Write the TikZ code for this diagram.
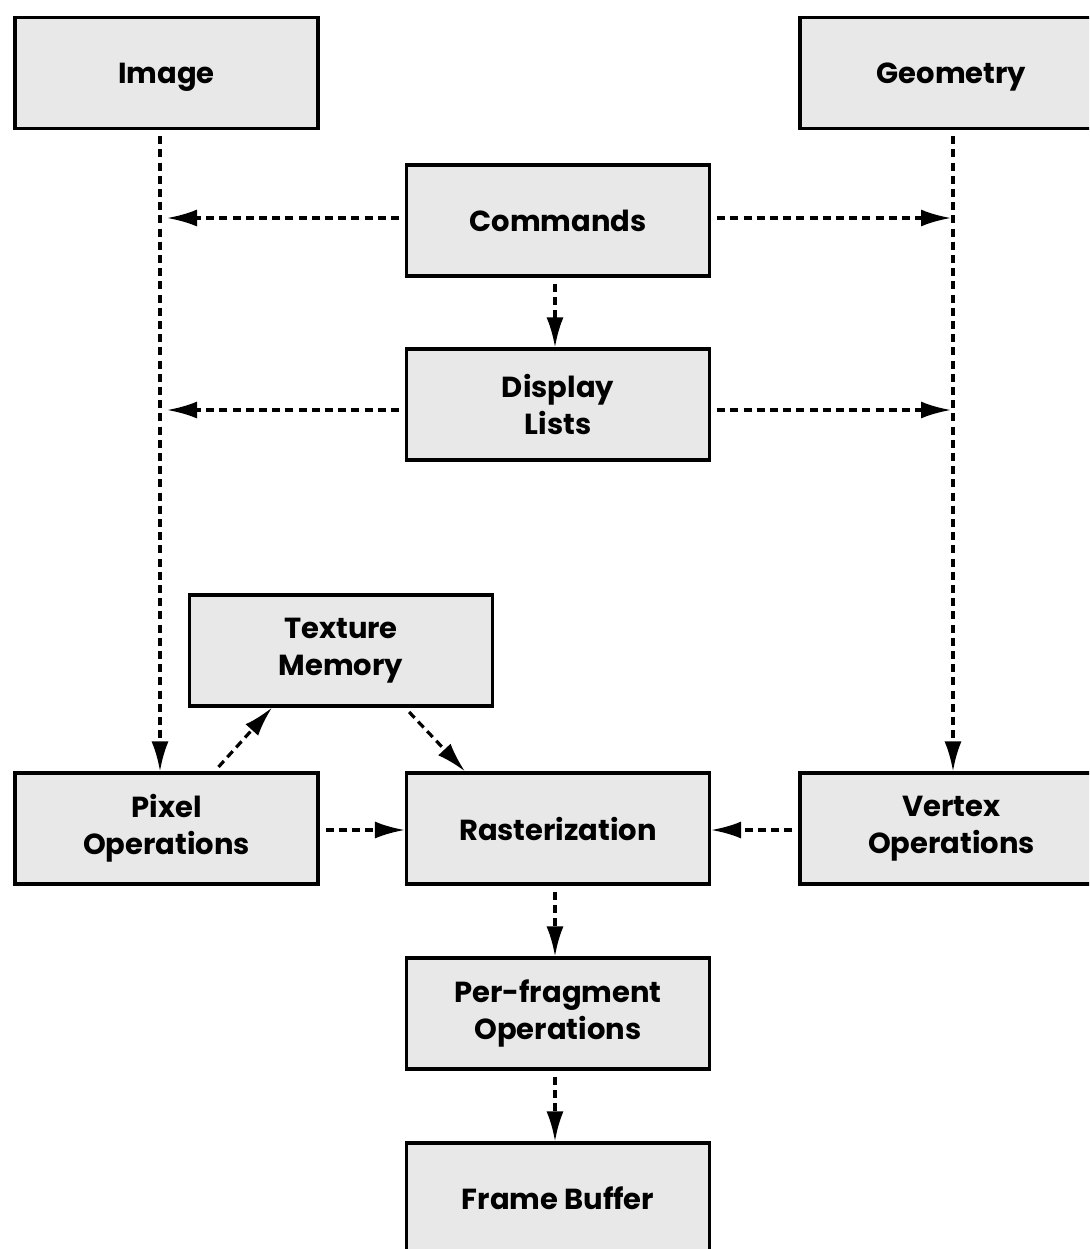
\documentclass[tikz,border=0pt]{standalone}
\usepackage{fontspec}
\setmainfont{Poppins}[BoldFont={Poppins Bold}]
\usetikzlibrary{arrows.meta,calc}
\definecolor{boxfill}{HTML}{E8E8E8}
\tikzset{
  blk/.style={draw=black, line width=1.6pt, fill=boxfill, minimum width=151.5pt, minimum height=55.5pt,
    inner sep=0pt, align=center, font=\fontsize{14.5}{18.5}\selectfont\bfseries},
  flow/.style={line width=1.6pt, dash pattern=on 4pt off 2.6pt, -{Latex[length=15pt,width=8.5pt]}, shorten <=3pt}
}
\begin{document}
\begin{tikzpicture}[x=0.5pt,y=-0.5pt]
\useasboundingbox (0,0) rectangle (1089,1249);
\clip (0,0) rectangle (1089,1249);
\node[blk, text depth=0pt] (img) at (166.5,73) {Image};
\node[blk, text depth=0pt] (geo) at (951.5,73) {Geometry};
\node[blk] (cmd) at (558,220.5) {Commands};
\node[blk] (dl) at (558,404.5) {Display\\Lists};
\node[blk] (tex) at (341,650.5) {Texture\\Memory};
\node[blk] (pix) at (166.5,828.5) {Pixel\\Operations};
\node[blk] (ras) at (558,828.5) {Rasterization};
\node[blk] (vtx) at (951.5,828.5) {Vertex\\Operations};
\node[blk] (pf) at (558,1013.5) {Per-fragment\\Operations};
\node[blk] (fb) at (558,1198.5) {Frame Buffer};
\coordinate (lx) at (160,0);
\coordinate (rx) at (953,0);
\coordinate (l1) at (167,218);
\coordinate (r1) at (951,218);
\coordinate (l2) at (167,410);
\coordinate (r2) at (951,410);
\draw[flow] (img.south -| lx) -- (pix.north -| lx);
\draw[flow] (geo.south -| rx) -- (vtx.north -| rx);
\draw[flow] (cmd.west |- l1) -- (l1);
\draw[flow] (cmd.east |- r1) -- (r1);
\draw[flow] (dl.west |- l2) -- (l2);
\draw[flow] (dl.east |- r2) -- (r2);
\draw[flow] ([xshift=-1.5pt]cmd.south) -- ([xshift=-1.5pt]dl.north);
\draw[flow] ([xshift=24pt]pix.north) -- ([xshift=-34.5pt]tex.south);
\draw[flow] ([xshift=32pt]tex.south) -- ([xshift=-46.5pt]ras.north);
\draw[flow] ([yshift=-0.75pt]pix.east) -- ([yshift=-0.75pt]ras.west);
\draw[flow] ([yshift=-0.75pt]vtx.west) -- ([yshift=-0.75pt]ras.east);
\draw[flow] ([xshift=-1.5pt]ras.south) -- ([xshift=-1.5pt]pf.north);
\draw[flow] ([xshift=-1.5pt]pf.south) -- ([xshift=-1.5pt]fb.north);
\end{tikzpicture}
\end{document}
